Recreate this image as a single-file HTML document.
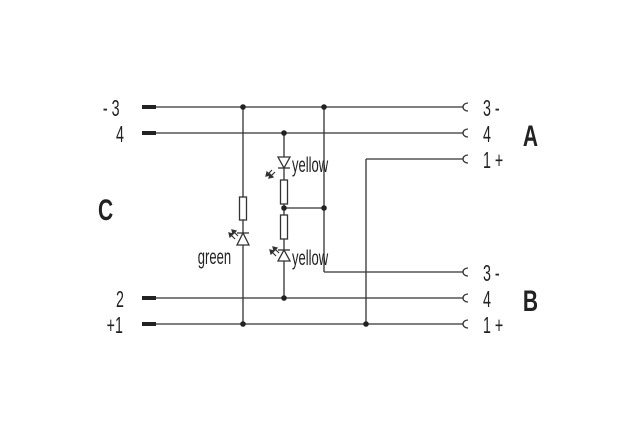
<!DOCTYPE html>
<html><head><style>body{margin:0;background:#fff}svg{display:block}
text{font-family:"Liberation Sans",sans-serif;fill:#222}</style></head><body>
<svg width="641" height="435" viewBox="0 0 641 435" xmlns="http://www.w3.org/2000/svg">
<g stroke="#333" stroke-width="1.3" fill="none">
<line x1="156" y1="107" x2="463" y2="107"/>
<line x1="156" y1="133" x2="463" y2="133"/>
<line x1="366" y1="159" x2="463" y2="159"/>
<line x1="324" y1="272" x2="463" y2="272"/>
<line x1="156" y1="298" x2="463" y2="298"/>
<line x1="156" y1="324" x2="463" y2="324"/>
<line x1="366" y1="159" x2="366" y2="324"/>
<line x1="324" y1="107" x2="324" y2="272"/>
<line x1="284" y1="208" x2="324" y2="208"/>
<line x1="243" y1="107" x2="243" y2="324"/>
<line x1="284" y1="133" x2="284" y2="298"/>
<path d="M468 103 A5 4 0 0 0 468 111 M468 129 A5 4 0 0 0 468 137 M468 155 A5 4 0 0 0 468 163 M468 268 A5 4 0 0 0 468 276 M468 294 A5 4 0 0 0 468 302 M468 320 A5 4 0 0 0 468 328"/>
</g>
<g fill="#fff" stroke="#333" stroke-width="1.3">
<rect x="239.5" y="197" width="7" height="23"/>
<rect x="280.5" y="180" width="7" height="24"/>
<rect x="280.5" y="215" width="7" height="24"/>
<path d="M278 157 L290 157 L284 168 Z"/><line x1="278" y1="168" x2="290" y2="168"/>
<path d="M278 261 L290 261 L284 250 Z"/><line x1="278" y1="250" x2="290" y2="250"/>
<path d="M237 245 L249 245 L243 233 Z"/><line x1="237" y1="233" x2="249" y2="233"/>
</g>
<g stroke="#333" stroke-width="1.2" fill="#333">
<path d="M272 170 L266 176 M275 172 L269 178" fill="none"/>
<path d="M266 176 l1 -4 l3 3z M269 178 l1 -4 l3 3z"/>
<path d="M279 253 L273 247 M276 256 L270 250" fill="none"/>
<path d="M273 247 l1 4 l3 -3z M270 250 l1 4 l3 -3z"/>
<path d="M238 236 L232 230 M235 239 L229 233" fill="none"/>
<path d="M232 230 l1 4 l3 -3z M229 233 l1 4 l3 -3z"/>
</g>
<g fill="#222">
<rect x="142" y="105" width="14" height="4"/><rect x="142" y="131" width="14" height="4"/>
<rect x="142" y="296" width="14" height="4"/><rect x="142" y="322" width="14" height="4"/>
<circle cx="243" cy="107" r="2.8"/><circle cx="324" cy="107" r="2.8"/><circle cx="284" cy="133" r="2.8"/>
<circle cx="284" cy="208" r="2.8"/><circle cx="324" cy="208" r="2.8"/><circle cx="284" cy="298" r="2.8"/>
<circle cx="243" cy="324" r="2.8"/><circle cx="366" cy="324" r="2.8"/>
</g>
<g font-size="23" transform="scale(0.62,1)">
<text x="166" y="116">- 3</text><text x="187" y="142">4</text>
<text x="187" y="307">2</text><text x="172" y="333">+1</text>
<text x="779" y="116">3 -</text><text x="779" y="142">4</text><text x="779" y="168">1 +</text>
<text x="779" y="281">3 -</text><text x="779" y="307">4</text><text x="779" y="333">1 +</text>
<text x="471" y="172" font-size="21">yellow</text><text x="471" y="265" font-size="21">yellow</text>
<text x="319" y="264" font-size="21">green</text>
</g>
<g font-size="30" font-weight="bold" transform="scale(0.7,1)">
<text x="140" y="220">C</text>
<text x="747" y="146">A</text>
<text x="747" y="311">B</text>
</g>
</svg>
</body></html>
